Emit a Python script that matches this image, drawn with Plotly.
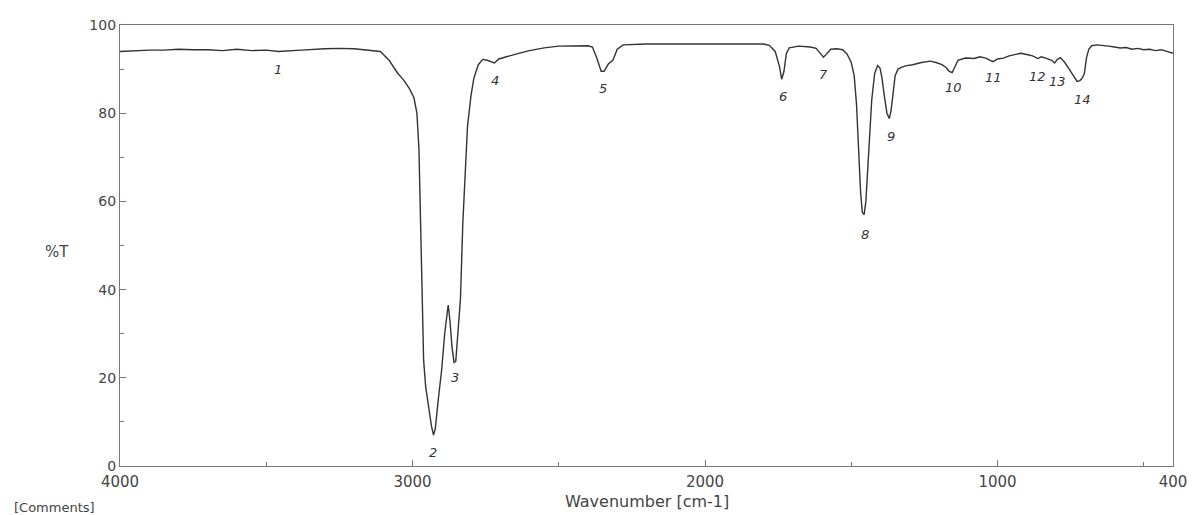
import plotly.graph_objects as go

# Spectrum trace
wavenumber = [4000, 3950, 3900, 3850, 3800, 3750, 3700, 3650, 3600, 3550, 3500, 3459, 3420, 3380,
              3300, 3250, 3200, 3150, 3110, 3080, 3050, 3030, 3010, 2995, 2985, 2978, 2973, 2968,
              2962, 2955, 2945, 2935, 2928, 2922, 2912, 2900, 2890, 2882, 2878, 2872, 2865, 2858,
              2852, 2845, 2836, 2828, 2820, 2812, 2800, 2790, 2775, 2760, 2745, 2730, 2720, 2705,
              2680, 2640, 2600, 2550, 2500, 2450, 2400, 2385, 2370, 2355, 2345, 2330, 2315, 2300,
              2280, 2200, 2100, 2000, 1900, 1800, 1780, 1760, 1745, 1738, 1730, 1722, 1712, 1700,
              1680, 1640, 1620, 1605, 1595, 1585, 1570, 1550, 1530, 1515, 1500, 1490, 1482, 1475,
              1468, 1462, 1456, 1450, 1445, 1438, 1430, 1420, 1410, 1402, 1395, 1387, 1378, 1370,
              1364, 1357, 1350, 1340, 1325, 1310, 1290, 1260, 1230, 1210, 1190, 1175, 1165, 1155,
              1145, 1135, 1110, 1080, 1060, 1040, 1025, 1015, 1000, 980, 960, 940, 920, 900, 880,
              862, 850, 835, 815, 805, 795, 785, 770, 755, 740, 728, 718, 710, 703, 696, 688, 678,
              660, 640, 620, 600, 580, 560, 540, 520, 500, 480, 460, 440, 420, 400]
transmittance = [94.0, 94.2, 94.3, 94.3, 94.5, 94.4, 94.4, 94.2, 94.5, 94.2, 94.3, 94.0, 94.2, 94.3,
                 94.6, 94.7, 94.6, 94.3, 94.0, 92.0, 89.0, 87.5, 85.5, 83.5, 80.0, 72.0, 55.0, 38.0,
                 24.0, 18.0, 13.0, 9.0, 7.0, 8.5, 15.0, 22.0, 30.0, 35.5, 36.5, 33.0, 27.0, 23.5,
                 23.8, 30.0, 38.0, 55.0, 68.0, 77.0, 84.0, 88.0, 91.0, 92.2, 92.0, 91.7, 91.4, 92.3,
                 92.8, 93.5, 94.2, 94.8, 95.2, 95.3, 95.3, 95.0, 92.5, 89.5, 89.5, 91.2, 92.0, 94.5,
                 95.5, 95.7, 95.7, 95.8, 95.8, 95.7, 95.4, 94.0, 90.5, 87.7, 89.5, 93.5, 94.8, 95.0,
                 95.2, 95.0, 94.7, 93.5, 92.7, 93.4, 94.5, 94.6, 94.4, 93.5, 91.5, 88.5, 82.0, 72.0,
                 62.0, 57.5, 57.0, 60.0, 66.0, 75.0, 83.0, 89.0, 90.8, 90.3, 88.0, 84.0, 80.0, 78.8,
                 80.5, 84.5, 88.5, 90.0, 90.5, 90.8, 91.0, 91.5, 91.8, 91.5, 91.0, 90.3, 89.5, 89.2,
                 90.5, 92.0, 92.5, 92.4, 92.8, 92.5, 92.0, 91.7, 92.3, 92.5, 93.0, 93.3, 93.6, 93.3, 93.0,
                 92.4, 92.8, 92.5, 92.0, 91.4, 92.2, 92.6, 91.5, 90.0, 88.5, 87.2, 87.4, 88.0, 89.0,
                 92.5, 94.5, 95.3, 95.5, 95.4, 95.2, 95.0, 94.8, 94.9, 94.5, 94.7, 94.4, 94.5, 94.2,
                 94.4, 94.0, 93.6]

# Peak labels
peak_numbers = ["1", "2", "3", "4", "5", "6", "7", "8", "9", "10", "11", "12", "13", "14"]
peak_wn = [3459, 2929, 2854, 2717, 2350, 1734, 1595, 1454, 1365, 1150, 1015, 862, 795, 710]
peak_label_y = [90.0, 3.0, 20.0, 87.5, 85.7, 83.7, 88.7, 52.4, 74.8, 85.9, 88.0, 88.4, 87.3, 83.2]

x_ticks = [4000, 3000, 2000, 1000, 400]
x_minor = [3500, 2500, 1500, 500]
y_ticks = [0, 20, 40, 60, 80, 100]
y_minor = [10, 30, 50, 70, 90]

ink = "#333333"
axis_col = "#777777"
font_family = "DejaVu Sans"

fig = go.Figure()
fig.add_trace(go.Scatter(x=wavenumber, y=transmittance, mode="lines",
                         line=dict(color=ink, width=1.4), showlegend=False,
                         hoverinfo="x+y"))

for lab, wx, wy in zip(peak_numbers, peak_wn, peak_label_y):
    fig.add_annotation(x=wx, y=wy, text=lab, showarrow=False,
                       font=dict(family=font_family, size=13, color=ink, style="italic"),
                       xanchor="center", yanchor="middle")

# axis titles and comment line as annotations (placed as in the reference)
fig.add_annotation(xref="paper", yref="paper", x=0.5, y=-0.0805, text="Wavenumber [cm-1]",
                   showarrow=False, xanchor="center", yanchor="middle",
                   font=dict(family=font_family, size=16, color="#444"))
fig.add_annotation(xref="paper", yref="paper", x=-0.06, y=0.485, text="%T",
                   showarrow=False, xanchor="center", yanchor="middle",
                   font=dict(family=font_family, size=15, color="#444"))
fig.add_annotation(xref="paper", yref="paper", x=-0.103, y=-0.093, text="[Comments]",
                   showarrow=False, xanchor="left", yanchor="middle",
                   font=dict(family=font_family, size=13, color="#444"))

# the page body adds an 8px offset, so the figure is sized to fit inside the window
fig.update_layout(
    width=1190, height=507,
    margin=dict(l=112, r=25, t=17, b=49),
    paper_bgcolor="white", plot_bgcolor="white",
    font=dict(family=font_family, size=15, color="#444"),
)
fig.update_xaxes(range=[4000, 400], tickvals=x_ticks, ticktext=[str(v) for v in x_ticks],
                 automargin=False,
                 showgrid=False, zeroline=False, showline=True, mirror=True,
                 linecolor=axis_col, linewidth=1.2, ticks="inside", ticklen=6,
                 tickcolor=axis_col, tickfont=dict(size=15), ticklabelstandoff=2,
                 minor=dict(tickvals=x_minor, ticks="inside", ticklen=4, tickcolor=axis_col))
fig.update_yaxes(range=[0, 100], tickvals=y_ticks, showgrid=False, zeroline=False,
                 automargin=False,
                 showline=True, mirror=True, linecolor=axis_col, linewidth=1.2,
                 ticks="inside", ticklen=6, tickcolor=axis_col, tickfont=dict(size=14),
                 minor=dict(tickvals=y_minor, ticks="inside", ticklen=4, tickcolor=axis_col))

fig.write_html("out.html")
